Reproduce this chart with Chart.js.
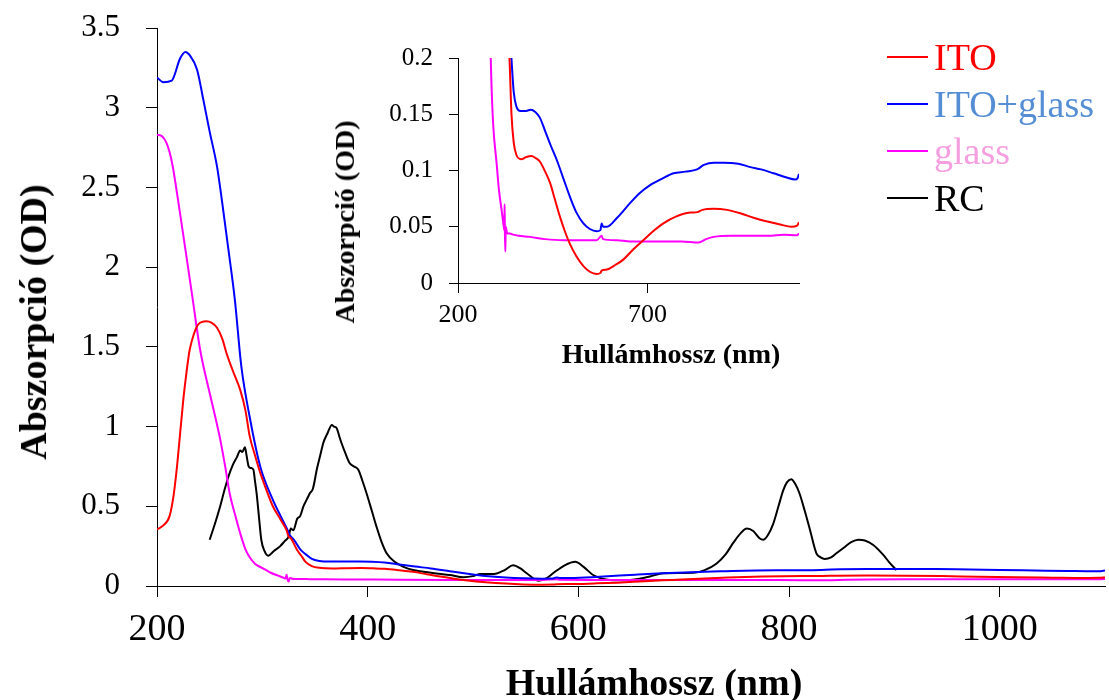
<!DOCTYPE html>
<html>
<head>
<meta charset="utf-8">
<title>Abszorpciós spektrumok</title>
<script src="https://cdn.jsdelivr.net/npm/chart.js@4.4.1/dist/chart.umd.min.js"></script>
<style>
  body { margin: 0; background: #fff; }
  #wrap { position: relative; width: 1109px; height: 700px; font-family: 'Liberation Serif', 'Times New Roman', serif; color: #000; }
  canvas { position: absolute; }
  #main { left: 0; top: 0; }
  #inset { left: 320px; top: 30px; }
  .axis-title { position: absolute; font-weight: bold; white-space: nowrap; line-height: 1; transform: translate(-50%, -50%); }
  .axis-title.vert { transform: translate(-50%, -50%) rotate(-90deg); }
  #legend { position: absolute; left: 887px; top: 33px; font-size: 38px; }
  .row { display: flex; align-items: center; height: 47px; }
  .swatch { width: 41px; height: 2px; margin-right: 6px; }
</style>
</head>
<body>
<div id="wrap">
  <canvas id="main" width="1109" height="700"></canvas>
  <canvas id="inset" width="490" height="345"></canvas>
  <div class="axis-title vert" style="left:33px; top:322px; font-size:38px;">Abszorpció (OD)</div>
  <div class="axis-title" style="left:654px; top:682px; font-size:38px;">Hullámhossz (nm)</div>
  <div class="axis-title vert" style="left:345px; top:222px; font-size:28px;">Abszorpció (OD)</div>
  <div class="axis-title" style="left:671px; top:354px; font-size:28px;">Hullámhossz (nm)</div>
  <div id="legend"></div>
</div>
<script>
// spectra: wavelength (nm) and absorbance (OD)
const itoNm = [200, 206, 212, 216, 219, 222, 225, 228, 231, 235, 239, 247, 252, 257, 262, 266, 272, 279, 284, 288, 293, 298, 304, 310, 317, 323, 325, 327, 333, 337, 341, 347, 354, 367, 380, 394, 405, 416, 430, 443, 456, 469, 482, 495, 512, 531, 548, 566, 576, 579, 593, 615, 637, 663, 689, 715, 742, 775, 813, 832, 845, 875, 910, 945, 980, 1016, 1050, 1080, 1095, 1100];
const itoOd = [0.355, 0.38, 0.44, 0.58, 0.75, 0.96, 1.17, 1.34, 1.48, 1.58, 1.64, 1.66, 1.65, 1.62, 1.55, 1.46, 1.35, 1.23, 1.10, 0.94, 0.82, 0.71, 0.60, 0.50, 0.42, 0.35, 0.31, 0.30, 0.226, 0.19, 0.151, 0.125, 0.114, 0.110, 0.112, 0.113, 0.111, 0.108, 0.099, 0.089, 0.074, 0.059, 0.046, 0.035, 0.024, 0.015, 0.010, 0.008, 0.009, 0.011, 0.012, 0.016, 0.021, 0.030, 0.038, 0.046, 0.053, 0.059, 0.0626, 0.063, 0.065, 0.066, 0.065, 0.062, 0.058, 0.0546, 0.052, 0.050, 0.051, 0.054];

const itoGlassNm = [200, 206, 214, 222, 227, 231, 238, 244, 250, 257, 262, 268, 274, 280, 288, 298, 310, 318, 324, 326, 330, 336, 341, 347, 354, 365, 380, 392, 404, 416, 430, 445, 460, 478, 495, 512, 531, 548, 566, 576, 579, 583, 593, 620, 654, 680, 707, 740, 769, 800, 831, 849, 875, 901, 940, 972, 1000, 1033, 1065, 1090, 1096, 1100];
const itoGlassOd = [3.19, 3.16, 3.17, 3.31, 3.35, 3.33, 3.24, 3.05, 2.85, 2.63, 2.40, 2.10, 1.79, 1.38, 1.06, 0.75, 0.54, 0.43, 0.35, 0.32, 0.29, 0.23, 0.20, 0.17, 0.157, 0.153, 0.153, 0.154, 0.152, 0.147, 0.135, 0.122, 0.110, 0.093, 0.077, 0.063, 0.053, 0.048, 0.046, 0.047, 0.053, 0.050, 0.050, 0.058, 0.071, 0.080, 0.087, 0.093, 0.0975, 0.099, 0.101, 0.105, 0.107, 0.107, 0.106, 0.103, 0.101, 0.0975, 0.094, 0.092, 0.093, 0.097];

const glassNm = [200, 205, 209, 212, 215, 220, 227, 233, 241, 250, 255, 260, 265, 269, 274, 279, 284, 288, 293, 302, 308, 315, 320, 322, 323, 324, 325, 326, 330, 337, 345, 360, 390, 430, 478, 520, 566, 579, 583, 620, 654, 700, 742, 790, 835, 855, 875, 920, 963, 1020, 1060, 1095, 1100];
const glassOd = [2.83, 2.82, 2.78, 2.72, 2.63, 2.42, 2.11, 1.84, 1.48, 1.21, 1.07, 0.92, 0.74, 0.58, 0.45, 0.33, 0.23, 0.18, 0.14, 0.106, 0.083, 0.065, 0.052, 0.047, 0.070, 0.040, 0.028, 0.050, 0.044, 0.044, 0.043, 0.042, 0.041, 0.039, 0.038, 0.038, 0.038, 0.042, 0.039, 0.038, 0.037, 0.037, 0.037, 0.037, 0.036, 0.039, 0.041, 0.042, 0.042, 0.042, 0.043, 0.0425, 0.044];

const rcNm = [250, 255, 260, 264, 268, 272, 276, 279, 281, 283.5, 285, 287, 289, 291.5, 293, 294.6, 297, 299, 302, 305.7, 311, 317, 321, 325, 327, 329.5, 333, 336, 339, 342, 345, 348, 352, 355, 358, 362, 366, 368, 370.6, 373, 375, 379, 383, 387, 391, 395, 399, 404, 408.5, 413, 418, 426, 434, 443, 453, 465, 478, 491, 500, 507, 520, 530, 538, 545, 551, 562, 570, 576, 587, 597, 605, 614, 622, 630, 645, 655, 668, 681, 695, 709, 720, 731, 740, 747, 754, 760, 766, 772, 775.5, 780, 785, 790, 794.5, 798, 802, 806, 810, 815, 820, 826, 830, 834, 840, 845, 852, 859, 866, 872, 880, 889.5, 895, 902];
const rcOd = [0.29, 0.39, 0.50, 0.60, 0.69, 0.76, 0.81, 0.85, 0.84, 0.87, 0.82, 0.75, 0.74, 0.73, 0.66, 0.58, 0.42, 0.29, 0.22, 0.19, 0.22, 0.25, 0.28, 0.31, 0.36, 0.35, 0.42, 0.44, 0.50, 0.54, 0.58, 0.61, 0.74, 0.82, 0.90, 0.96, 1.01, 1.00, 0.99, 0.94, 0.90, 0.83, 0.77, 0.75, 0.73, 0.66, 0.58, 0.47, 0.37, 0.28, 0.205, 0.15, 0.12, 0.10, 0.09, 0.078, 0.069, 0.055, 0.062, 0.075, 0.075, 0.10, 0.13, 0.11, 0.08, 0.033, 0.05, 0.08, 0.13, 0.152, 0.12, 0.069, 0.048, 0.038, 0.036, 0.042, 0.06, 0.08, 0.082, 0.083, 0.10, 0.14, 0.20, 0.27, 0.33, 0.36, 0.345, 0.30, 0.29, 0.32, 0.39, 0.50, 0.60, 0.65, 0.67, 0.64, 0.58, 0.47, 0.35, 0.205, 0.18, 0.17, 0.18, 0.205, 0.24, 0.275, 0.29, 0.285, 0.257, 0.195, 0.15, 0.10];

const seriesLabels = ['ITO', 'ITO+glass', 'glass', 'RC'];
const mainXTicks = [200, 400, 600, 800, 1000];
const insetXTicks = [200, 700];

const lineColors = ['#ff0000', '#0000ff', '#ff00ff', '#000000'];
const legendTextColors = ['#ff0000', '#558ed5', '#f59fe0', '#000000'];

const seriesData = [[itoNm, itoOd], [itoGlassNm, itoGlassOd], [glassNm, glassOd], [rcNm, rcOd]];

Chart.defaults.font.family = "'Liberation Serif', 'Times New Roman', serif";
Chart.defaults.color = '#000';

// plain numbers: 3 not 3.0, 1000 not 1,000
const plain = v => String(Math.round(v * 1000) / 1000);

function buildSets(count) {
  return seriesData.slice(0, count).map(([nm, od], i) => ({
    label: seriesLabels[i],
    data: nm.map((x, k) => ({ x, y: od[k] })),
    borderColor: lineColors[i],
    borderWidth: 2,
    pointRadius: 0,
    cubicInterpolationMode: 'monotone',
    fill: false
  }));
}

function axis(extra) {
  return Object.assign({
    type: 'linear',
    border: { color: '#000', width: 1 }
  }, extra);
}

// fixed axis sizes; let layout.padding alone decide the plot edges
function fixWidth(w) {
  return s => { s.width = w; s.paddingTop = 0; s.paddingBottom = 0; };
}
function fixHeight(h) {
  return s => { s.height = h; s.paddingLeft = 0; s.paddingRight = 0; };
}

function baseOptions(padding, scales) {
  return {
    responsive: false,
    animation: false,
    devicePixelRatio: 1,
    layout: { padding },
    plugins: { legend: { display: false }, tooltip: { enabled: false } },
    scales
  };
}

// full-range spectra
new Chart(document.getElementById('main'), {
  type: 'line',
  data: { datasets: buildSets(4) },
  options: baseOptions({ top: 28, right: 4, left: 0, bottom: 0 }, {
    x: axis({
      min: 200, max: 1100,
      afterBuildTicks: s => { s.ticks = mainXTicks.map(v => ({ value: v })); },
      afterFit: fixHeight(114),
      grid: { drawOnChartArea: false, color: '#000', tickLength: 11 },
      ticks: { font: { size: 38 }, padding: 10, maxRotation: 0, autoSkip: false, callback: plain }
    }),
    y: axis({
      min: 0, max: 3.5,
      afterFit: fixWidth(157),
      grid: { drawOnChartArea: false, color: '#000', tickLength: 11 },
      ticks: { stepSize: 0.5, font: { size: 31 }, padding: 26, callback: plain }
    })
  })
});

// zoom on the low-absorbance region (no RC)
new Chart(document.getElementById('inset'), {
  type: 'line',
  data: { datasets: buildSets(3) },
  options: baseOptions({ top: 28, right: 11, left: 0, bottom: 0 }, {
    x: axis({
      min: 200, max: 1100,
      afterBuildTicks: s => { s.ticks = insetXTicks.map(v => ({ value: v })); },
      afterFit: fixHeight(92),
      grid: { drawOnChartArea: false, color: '#000', tickLength: 10 },
      ticks: { font: { size: 26 }, padding: 7, maxRotation: 0, autoSkip: false, callback: plain }
    }),
    y: axis({
      min: 0, max: 0.2,
      afterFit: fixWidth(138),
      grid: { drawOnChartArea: false, color: '#000', tickLength: 9 },
      ticks: { stepSize: 0.05, font: { size: 25 }, padding: 16, callback: plain }
    })
  })
});

// legend
const legend = document.getElementById('legend');
seriesLabels.forEach((name, i) => {
  const row = document.createElement('div');
  row.className = 'row';
  row.innerHTML = `<span class="swatch" style="background:${lineColors[i]}"></span><span style="color:${legendTextColors[i]}">${name}</span>`;
  legend.appendChild(row);
});
</script>
</body>
</html>
